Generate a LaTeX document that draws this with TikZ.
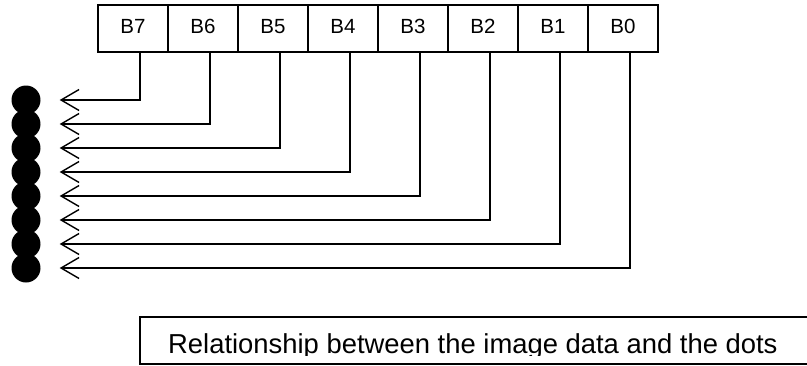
\documentclass[tikz,border=0pt]{standalone}
\usepackage{fontspec}
\setmainfont{Liberation Sans}
\usetikzlibrary{chains,positioning,arrows.meta}

\begin{document}
\begin{tikzpicture}[
	x=1pt,y=-1pt,
	start chain=going right,
	cell/.style={
		on chain,draw,
		line width=1.4pt,
		minimum height=47pt,
		minimum width=70pt,
		text height=15pt,text depth=6pt,
		inner sep=0pt,outer sep=0pt,
		font=\fontsize{20.5}{24}\selectfont,
	},
	dot/.style={circle,fill,minimum size=29pt,inner sep=0pt},
	wire/.style={line width=1.4pt,-{Straight Barb[length=18pt,width=21pt,line width=1.4pt]}},
	node distance=0pt
]

\clip (0,0) rectangle (807,365);

% Byte cells, chain starts here
\node [cell] (b7) at (133,28.5) {B7};
\node [cell] (b6) {B6};
\node [cell] (b5) {B5};
\node [cell] (b4) {B4};
\node [cell] (b3) {B3};
\node [cell] (b2) {B2};
\node [cell] (b1) {B1};
\node [cell] (b0) {B0};
% Chain ends here

% Dots
\node [dot] (d7) at (26,100) {};
\node [dot] (d6) at (26,124) {};
\node [dot] (d5) at (26,148) {};
\node [dot] (d4) at (26,172) {};
\node [dot] (d3) at (26,196) {};
\node [dot] (d2) at (26,220) {};
\node [dot] (d1) at (26,244) {};
\node [dot] (d0) at (26,268) {};

% Arrow ends
\coordinate [right=19pt of d7] (t7);
\coordinate [right=19pt of d6] (t6);
\coordinate [right=19pt of d5] (t5);
\coordinate [right=19pt of d4] (t4);
\coordinate [right=19pt of d3] (t3);
\coordinate [right=19pt of d2] (t2);
\coordinate [right=19pt of d1] (t1);
\coordinate [right=19pt of d0] (t0);

% Connections from bits to dots
\draw[wire] ([xshift=7pt]b7.south) |- (t7);
\draw[wire] ([xshift=7pt]b6.south) |- (t6);
\draw[wire] ([xshift=7pt]b5.south) |- (t5);
\draw[wire] ([xshift=7pt]b4.south) |- (t4);
\draw[wire] ([xshift=7pt]b3.south) |- (t3);
\draw[wire] ([xshift=7pt]b2.south) |- (t2);
\draw[wire] ([xshift=7pt]b1.south) |- (t1);
\draw[wire] ([xshift=7pt]b0.south) |- (t0);

% Caption box
\node [
	draw,line width=1.4pt,
	anchor=north west,
	minimum width=700pt,
	minimum height=47pt,
	outer sep=0pt,
] (cap) at (140,317) {};
\begin{scope}
	\clip (140,317) rectangle (807,355);
	\node [anchor=base west,inner sep=0pt,font=\fontsize{27.4}{30}\selectfont]
		(captxt) at (168,353) {Relationship between the image data and the dots};
\end{scope}

\end{tikzpicture}
\end{document}
